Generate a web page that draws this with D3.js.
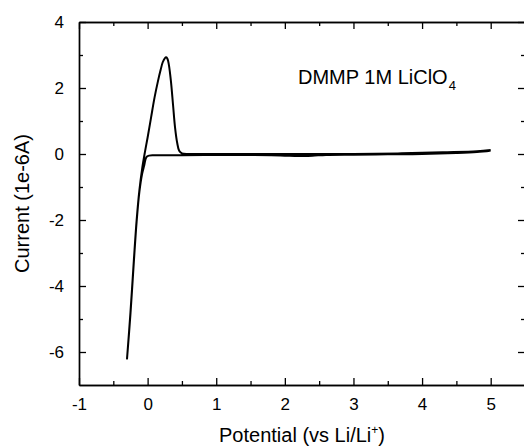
<!DOCTYPE html>
<html>
<head>
<meta charset="utf-8">
<script src="https://cdn.jsdelivr.net/npm/d3@7"></script>
<style>
  body { margin: 0; background: #fff; }
  text { font-family: "Liberation Sans", Arial, sans-serif; fill: #000; }
</style>
</head>
<body>
<div id="cv"></div>
<script>
// sweep from 5 V down to -0.3 V, then back up to 5 V
const potential = [
    5.0, 4.8, 4.5, 4.0, 3.5, 3.0, 2.6, 2.4, 2.2, 2.0, 1.8, 1.5, 1.0, 0.5, 0.1, 0.02,
    -0.02, -0.05, -0.08, -0.12, -0.16, -0.2, -0.25, -0.3,
    -0.25, -0.2, -0.16, -0.12, -0.08, -0.04, 0.0, 0.05, 0.1, 0.15, 0.19, 0.22, 0.25, 0.27,
    0.29, 0.31, 0.34, 0.37, 0.4, 0.43, 0.46, 0.5, 0.6, 1.0, 2.0, 3.0, 3.7, 4.3, 4.8, 5.0
];
const current = [
    0.10, 0.06, 0.03, 0.0, -0.01, -0.02, -0.03, -0.05, -0.06, -0.05, -0.04, -0.03, -0.03, -0.04, -0.04, -0.05,
    -0.1, -0.35, -0.6, -1.15, -2.05, -3.25, -4.85, -6.2,
    -4.8, -3.2, -2.0, -1.1, -0.45, 0.05, 0.5, 1.1, 1.7, 2.2, 2.55, 2.78, 2.9, 2.93,
    2.88, 2.7, 2.2, 1.5, 0.8, 0.35, 0.1, 0.02, 0.0, 0.0, 0.0, 0.0, 0.02, 0.05, 0.08, 0.12
];

const xTicks = [-1, 0, 1, 2, 3, 4, 5];
const xMinor = [-0.5, 0.5, 1.5, 2.5, 3.5, 4.5];
const yTicks = [-6, -4, -2, 0, 2, 4];
const yMinor = [-5, -3, -1, 1, 3];

const label = "DMMP 1M LiClO";
const labelSub = "4";
const xTitle = "Potential (vs Li/Li";
const yTitle = "Current (1e-6A)";

const W = 524, H = 448;
const margin = { top: 22, right: -1, bottom: 63, left: 79 };

const svg = d3.select("#cv").append("svg")
    .attr("width", W)
    .attr("height", H);

const x = d3.scaleLinear()
    .domain([-1, 5.5])
    .range([margin.left, W - margin.right]);

const y = d3.scaleLinear()
    .domain([-7, 4])
    .range([H - margin.bottom, margin.top]);

const data = potential.map((v, i) => ({ v, i: current[i] }));

// curve
svg.append("path")
    .datum(data)
    .attr("fill", "none")
    .attr("stroke", "#000")
    .attr("stroke-width", 2)
    .attr("stroke-linejoin", "round")
    .attr("d", d3.line()
        .x(d => x(d.v))
        .y(d => y(d.i))
        .curve(d3.curveCatmullRom.alpha(0.5)));

const plain = d => String(d); // hyphen minus like the original

const tickStyle = g => {
    g.attr("font-family", null).attr("font-size", null);
    g.select(".domain").attr("stroke-width", 1.4);
    g.selectAll(".tick line").attr("stroke-width", 1.3);
    g.selectAll("text").style("font-size", "17px");
};

// bottom axis, ticks inward
svg.append("g")
    .attr("transform", `translate(0,${y(-7)})`)
    .call(d3.axisBottom(x).tickValues(xTicks).tickFormat(plain)
        .tickSizeInner(-7).tickSizeOuter(0).tickPadding(13))
    .call(tickStyle);
svg.append("g")
    .attr("transform", `translate(0,${y(-7)})`)
    .call(d3.axisBottom(x).tickValues(xMinor).tickFormat("").tickSizeInner(-4).tickSizeOuter(0))
    .call(tickStyle);

// top axis
svg.append("g")
    .attr("transform", `translate(0,${y(4)})`)
    .call(d3.axisTop(x).tickValues(xTicks).tickFormat("").tickSizeInner(-7).tickSizeOuter(0))
    .call(tickStyle);
svg.append("g")
    .attr("transform", `translate(0,${y(4)})`)
    .call(d3.axisTop(x).tickValues(xMinor).tickFormat("").tickSizeInner(-4).tickSizeOuter(0))
    .call(tickStyle);

// left axis
svg.append("g")
    .attr("transform", `translate(${x(-1)},0)`)
    .call(d3.axisLeft(y).tickValues(yTicks).tickFormat(plain)
        .tickSizeInner(-7).tickSizeOuter(0).tickPadding(15))
    .call(tickStyle);
svg.append("g")
    .attr("transform", `translate(${x(-1)},0)`)
    .call(d3.axisLeft(y).tickValues(yMinor).tickFormat("").tickSizeInner(-4).tickSizeOuter(0))
    .call(tickStyle);

// right axis
svg.append("g")
    .attr("transform", `translate(${x(5.5)},0)`)
    .call(d3.axisRight(y).tickValues(yTicks).tickFormat("").tickSizeInner(-7).tickSizeOuter(0))
    .call(tickStyle);
svg.append("g")
    .attr("transform", `translate(${x(5.5)},0)`)
    .call(d3.axisRight(y).tickValues(yMinor).tickFormat("").tickSizeInner(-4).tickSizeOuter(0))
    .call(tickStyle);

// annotation
const ann = svg.append("text")
    .attr("x", 298)
    .attr("y", 84)
    .style("font-size", "20px");
ann.append("tspan").text(label);
ann.append("tspan").attr("dx", 1).attr("dy", 6).style("font-size", "13px").text(labelSub);

// axis titles
const xt = svg.append("text")
    .attr("x", (x(-1) + x(5.5)) / 2)
    .attr("y", 442)
    .attr("text-anchor", "middle")
    .style("font-size", "20px");
xt.append("tspan").text(xTitle);
xt.append("tspan").attr("dy", -8).style("font-size", "12px").text("+");
xt.append("tspan").attr("dy", 8).text(")");

svg.append("text")
    .attr("transform", `translate(29,${(y(-7) + y(4)) / 2}) rotate(-90)`)
    .attr("text-anchor", "middle")
    .style("font-size", "20px")
    .text(yTitle);
</script>
</body>
</html>
